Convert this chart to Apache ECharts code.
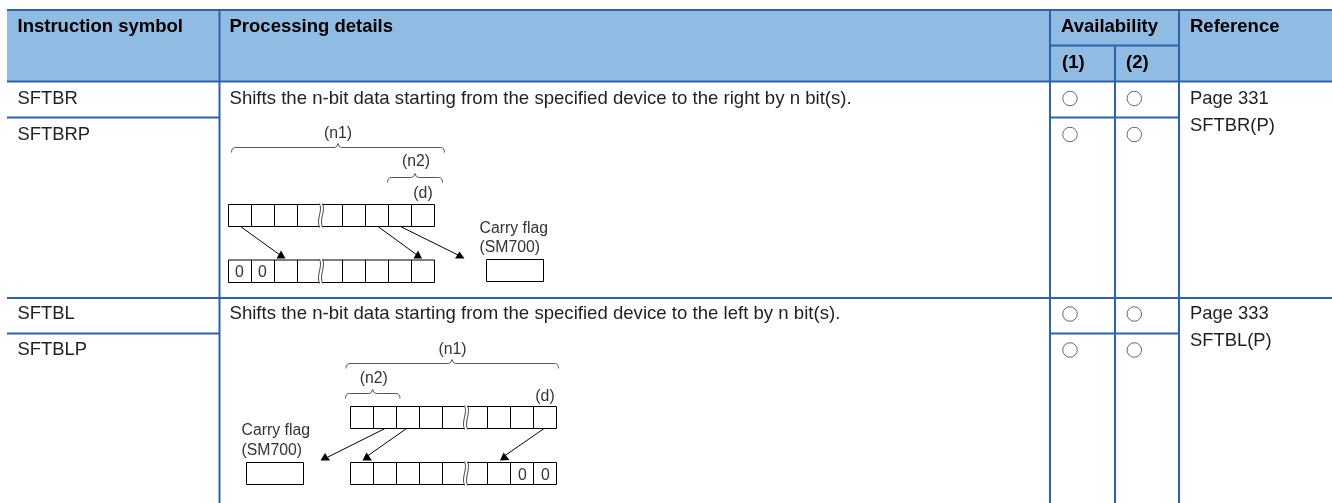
<!DOCTYPE html>
<html><head><meta charset="utf-8">
<style>html,body{margin:0;padding:0;background:#fff}#c{width:1332px;height:503px}</style>
<script src="https://cdn.jsdelivr.net/npm/echarts@6/dist/echarts.min.js"></script>
</head><body><div id="c"></div>
<script>
// ---- content ----
const headers = ['Instruction symbol', 'Processing details', 'Availability', 'Reference'];
const availabilityColumns = ['(1)', '(2)'];
const instructions = ['SFTBR', 'SFTBRP', 'SFTBL', 'SFTBLP'];
const available = [[1, 1], [1, 1], [1, 1], [1, 1]];
const details = ['Shifts the n-bit data starting from the specified device to the right by n bit(s).',
                 'Shifts the n-bit data starting from the specified device to the left by n bit(s).'];
const references = [['Page 331', 'SFTBR(P)'], ['Page 333', 'SFTBL(P)']];
const carryLabel = ['Carry flag', '(SM700)'];
const diagramLabels = ['(n1)', '(n2)', '(d)'];
const fillBits = ['0', '0'];

// ---- layout (pixel space of the hidden axes) ----
const W = 1332, H = 503;
const FILL = '#90bce3', RULE = '#2d62b0', INK = '#1f1f1f', DIA = '#333333';
const FONT = '"Liberation Sans", Arial, sans-serif';
const colX = [219.5, 1050, 1115, 1179], leftX = 7, topY = 10, headBottom = 81.5, subHead = 45.5;
const rowText = [98.5, 134.5, 314, 350];
const circleX = [1070, 1134.3];

const shapes = [];
const L = (pts, color, w) => shapes.push({k: 'line', pts, color: color || '#000', w: w || 1});
const T = (text, x, y, o) => shapes.push(Object.assign({k: 't', text, x, y}, o));
const Q = (p0, c, p1, color) => shapes.push({k: 'q', p0, c, p1, color: color || '#444', w: 0.9});
const Tri = (pts) => shapes.push({k: 'poly', pts});
const Rect = (x0, y0, x1, y1) => shapes.push({k: 'rect', x0, y0, x1, y1});

// header band and rules
Rect(leftX, topY, W, headBottom);
const rule = (pts) => L(pts, RULE, 2);
rule([[leftX, topY], [W, topY]]);
rule([[leftX, headBottom], [W, headBottom]]);
rule([[colX[1], subHead], [colX[3], subHead]]);
rule([[colX[0], topY], [colX[0], H]]);
rule([[colX[1], topY], [colX[1], H]]);
rule([[colX[2], subHead], [colX[2], H]]);
rule([[colX[3], topY], [colX[3], H]]);
rule([[leftX, 298], [W, 298]]);
[117.5, 333.5].forEach(y => { rule([[leftX, y], [colX[0], y]]); rule([[colX[1], y], [colX[3], y]]); });

// header text
const hd = {font: 'bold 18.5px ' + FONT, color: '#000'};
T(headers[0], 17.5, 27, hd); T(headers[1], 229.5, 27, hd); T(headers[2], 1061, 27, hd); T(headers[3], 1190, 27, hd);
T(availabilityColumns[0], 1062, 63, hd); T(availabilityColumns[1], 1126, 63, hd);
// body text
const bd = {font: '18.4px ' + FONT, color: INK};
const bdWide = {font: '18.6px ' + FONT, color: INK};
instructions.forEach((s, i) => T(s, 17.5, rowText[i], bd));
T(details[0], 229.5, rowText[0], bdWide); T(details[1], 229.5, rowText[2], bdWide);
T(references[0][0], 1190, 98.5, bd); T(references[0][1], 1190, 125.5, bd);
T(references[1][0], 1190, 314, bd); T(references[1][1], 1190, 341, bd);

// diagram helpers
const dt = {font: '15.8px ' + FONT, color: DIA};
const dc = {font: '15.8px ' + FONT, color: DIA, align: 'center'};
function brace(x0, x1, tip, y, up, drop) {
  const c = '#444';
  Q([x0, y + drop], [x0, y], [x0 + 4, y], c);
  L([[x0 + 4, y], [tip - 3.5, y]], c, 0.9);
  Q([tip - 3.5, y], [tip - 1, y], [tip, y - up], c);
  Q([tip, y - up], [tip + 1, y], [tip + 3.5, y], c);
  L([[tip + 3.5, y], [x1 - 4, y]], c, 0.9);
  Q([x1 - 4, y], [x1, y], [x1, y + drop], c);
}
function wave(x, y0, y1) {
  const h = y1 - y0;
  shapes.push({k: 'c', p0: [x, y0 - 1], c1: [x + 3.5, y0 + h * 0.3], c2: [x - 3.5, y0 + h * 0.65], p1: [x, y1 + 1]});
}
function cells(xs, breakX, y0, y1) {
  const a = xs[0], b = xs[xs.length - 1];
  L([[a, y0], [breakX, y0]]); L([[a, y1], [breakX, y1]]);
  L([[breakX + 3, y0], [b, y0]]); L([[breakX + 3, y1], [b, y1]]);
  xs.forEach(x => L([[x, y0], [x, y1]]));
  wave(breakX, y0, y1); wave(breakX + 3, y0, y1);
}
function box(x0, y0, x1, y1) { L([[x0, y0], [x1, y0], [x1, y1], [x0, y1], [x0, y0]]); }
function arrow(from, to, tri) { L([from, to]); Tri(tri); }

// diagram: shift right
const d1 = [228.5, 251.5, 274.5, 297.5, 342.5, 365.5, 388.5, 411.5, 434.5];
T(diagramLabels[0], 338, 134, dc); T(diagramLabels[1], 416, 162, dc); T(diagramLabels[2], 423, 194, dc);
brace(231.5, 444.5, 338, 147.5, 4, 5);
brace(387.5, 442.5, 415, 177.5, 4, 5);
cells(d1, 319.5, 204.5, 226.5);
cells(d1, 319.5, 260, 282.5);
T(fillBits[0], 239.5, 272.5, dc); T(fillBits[1], 262.5, 272.5, dc);
arrow([240.5, 226.5], [280, 255], [[276.5, 258.5], [285.5, 258.5], [281, 250.5]]);
arrow([378, 226.5], [417, 255], [[413.5, 258.5], [422, 258.5], [418, 250.5]]);
arrow([400.5, 226.5], [458, 255], [[455, 258.5], [464.5, 258.5], [459.5, 251.5]]);
T(carryLabel[0], 479.5, 229, dt); T(carryLabel[1], 479.5, 248, dt);
box(486.5, 259.5, 543.5, 281.5);

// diagram: shift left
const d2 = [350.5, 373.5, 396.5, 419.5, 442.5, 487.5, 510.5, 533.5, 556.5];
T(diagramLabels[0], 452.5, 350, dc); T(diagramLabels[1], 373.7, 379, dc); T(diagramLabels[2], 545, 396.5, dc);
brace(346, 558.5, 452, 363.5, 4, 5);
brace(345.5, 400, 372.7, 393.5, 4, 5);
cells(d2, 464.5, 406.5, 428.5);
cells(d2, 464.5, 462.5, 484.5);
T(fillBits[0], 522.5, 475.5, dc); T(fillBits[1], 545.5, 475.5, dc);
arrow([385, 428.5], [328, 457], [[320.5, 460.5], [330, 460.5], [325, 453]]);
arrow([406.5, 428.5], [366, 457], [[362.5, 460.5], [372, 460.5], [366.5, 452.5]]);
arrow([544, 428.5], [503, 457], [[500, 460.5], [509.5, 460], [503.5, 452.5]]);
T(carryLabel[0], 241.5, 431, dt); T(carryLabel[1], 241.5, 450.5, dt);
box(246.5, 462.5, 303.5, 484.5);

// availability marks
const marks = [];
available.forEach((r, i) => r.forEach((v, j) => { if (v) marks.push([circleX[j], rowText[i]]); }));

const pt = (api, p) => api.coord(p);
function renderShape(params, api) {
  const s = shapes[params.dataIndex];
  if (s.k === 'rect') {
    const a = pt(api, [s.x0, s.y0]), b = pt(api, [s.x1, s.y1]);
    return {type: 'rect', shape: {x: a[0], y: a[1], width: b[0] - a[0], height: b[1] - a[1]}, style: {fill: FILL}};
  }
  if (s.k === 'line') {
    return {type: 'polyline', shape: {points: s.pts.map(p => pt(api, p))}, style: {stroke: s.color, lineWidth: s.w, fill: 'none'}};
  }
  if (s.k === 'poly') {
    return {type: 'polygon', shape: {points: s.pts.map(p => pt(api, p))}, style: {fill: '#000'}};
  }
  if (s.k === 'q') {
    const a = pt(api, s.p0), c = pt(api, s.c), b = pt(api, s.p1);
    return {type: 'bezierCurve', shape: {x1: a[0], y1: a[1], cpx1: c[0], cpy1: c[1], x2: b[0], y2: b[1]}, style: {stroke: s.color, lineWidth: s.w, fill: 'none'}};
  }
  if (s.k === 'c') {
    const a = pt(api, s.p0), c1 = pt(api, s.c1), c2 = pt(api, s.c2), b = pt(api, s.p1);
    return {type: 'bezierCurve', shape: {x1: a[0], y1: a[1], cpx1: c1[0], cpy1: c1[1], cpx2: c2[0], cpy2: c2[1], x2: b[0], y2: b[1]}, style: {stroke: '#333', lineWidth: 0.9, fill: 'none'}};
  }
  const p = pt(api, [s.x, s.y]);
  return {type: 'text', x: p[0], y: p[1], style: {text: s.text, font: s.font, fill: s.color, align: s.align || 'left', verticalAlign: 'middle'}};
}

const chart = echarts.init(document.getElementById('c'), null, {renderer: 'canvas'});
chart.setOption({
  animation: false,
  backgroundColor: '#fff',
  grid: {left: 0, right: 0, top: 0, bottom: 0},
  xAxis: {type: 'value', min: 0, max: W, show: false},
  yAxis: {type: 'value', min: 0, max: H, inverse: true, show: false},
  tooltip: {show: false},
  series: [
    {type: 'custom', silent: true, clip: false, coordinateSystem: 'cartesian2d',
     data: shapes.map((s, i) => [i]), renderItem: renderShape, encode: {x: 0}},
    {type: 'scatter', silent: true, data: marks, symbol: 'circle', symbolSize: 14.5,
     itemStyle: {color: '#fff', borderColor: '#444', borderWidth: 1}, z: 5}
  ]
});
</script></body></html>
